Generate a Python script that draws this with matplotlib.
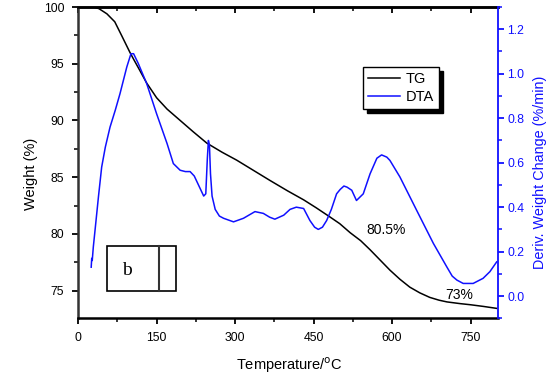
import matplotlib
matplotlib.use("Agg")
import matplotlib.pyplot as plt
from matplotlib.patches import Rectangle
from matplotlib.lines import Line2D
from matplotlib.ticker import MultipleLocator

plt.rcParams["font.family"] = ["Liberation Sans", "DejaVu Sans"]

# TG curve (weight %, left axis)
tg_temp = [25, 30, 40, 55, 70, 83, 99, 106, 118, 131, 150, 170, 195, 220, 246,
           275, 303, 335, 367, 400, 431, 455, 481, 500, 520, 540, 558, 577, 596,
           615, 634, 653, 672, 690, 705, 730, 750, 775, 800]
tg_weight = [100.0, 100.0, 99.85, 99.4, 98.7, 97.5, 96.0, 95.4, 94.4, 93.3, 92.0,
             91.0, 90.0, 89.0, 88.0, 87.2, 86.5, 85.6, 84.7, 83.8, 83.0, 82.3,
             81.5, 80.9, 80.1, 79.4, 78.6, 77.7, 76.8, 76.0, 75.3, 74.8, 74.4,
             74.15, 74.0, 73.85, 73.75, 73.6, 73.43]

# DTA curve (deriv. weight change, right axis)
dta_temp = [25, 26, 27, 29, 32.5, 39, 45, 52, 61, 71, 80, 93, 101, 106, 115, 131,
            150, 170, 182, 195, 205, 214, 222, 230, 240, 244, 247, 249, 251, 253,
            256, 262, 270, 278, 297, 316, 338, 354, 366, 376, 393, 405, 417, 431,
            443, 452, 459, 467, 475, 484, 494, 501, 508, 514, 523, 532, 545, 558,
            571, 580, 590, 596, 615, 647, 679, 705, 715, 724, 736, 755, 774, 787, 800]
dta_value = [0.13, 0.17, 0.16, 0.22, 0.30, 0.45, 0.58, 0.67, 0.76, 0.836, 0.91,
             1.03, 1.09, 1.09, 1.046, 0.956, 0.82, 0.686, 0.596, 0.566, 0.56, 0.56,
             0.54, 0.50, 0.45, 0.46, 0.62, 0.70, 0.68, 0.55, 0.45, 0.39, 0.36, 0.35,
             0.334, 0.35, 0.38, 0.372, 0.355, 0.346, 0.364, 0.39, 0.40, 0.394,
             0.34, 0.31, 0.30, 0.31, 0.34, 0.39, 0.46, 0.48, 0.495, 0.49, 0.476,
             0.43, 0.46, 0.55, 0.62, 0.635, 0.625, 0.61, 0.536, 0.386, 0.237, 0.13,
             0.09, 0.072, 0.057, 0.057, 0.080, 0.11, 0.154]

x_ticks = [0, 150, 300, 450, 600, 750]
left_ticks = [75, 80, 85, 90, 95, 100]
right_ticks = [0.0, 0.2, 0.4, 0.6, 0.8, 1.0, 1.2]

blue = "#1010ff"

fig = plt.figure(figsize=(5.58, 3.79), dpi=100)
ax = fig.add_axes([0.140, 0.160, 0.752, 0.8215])
ax2 = ax.twinx()

ax.plot(tg_temp, tg_weight, color="black", lw=1.1)
ax2.plot(dta_temp, dta_value, color=blue, lw=1.1)

ax.set_xlim(0, 802)
ax.set_ylim(72.55, 100)
ax2.set_ylim(-0.1, 1.3)

ax.set_xticks(x_ticks)
ax.set_yticks(left_ticks)
ax2.set_yticks(right_ticks)
ax2.set_yticklabels([f"{v:.1f}" for v in right_ticks])
ax.xaxis.set_minor_locator(MultipleLocator(75))
ax.yaxis.set_minor_locator(MultipleLocator(2.5))
ax2.yaxis.set_minor_locator(MultipleLocator(0.1))

ax.tick_params(axis="both", which="major", direction="out", length=4, width=1.3,
               labelsize=8.8, pad=6)
ax.tick_params(axis="both", which="minor", direction="out", length=3, width=1.1)
ax2.tick_params(axis="y", which="major", direction="out", length=4, width=1.3,
                colors=blue, labelsize=8.8, pad=3)
ax2.tick_params(axis="y", which="minor", direction="out", length=3, width=1.1,
                colors=blue)

top = ax.secondary_xaxis("top")
top.set_xticks(x_ticks, labels=[])
top.xaxis.set_minor_locator(MultipleLocator(75))
top.tick_params(which="major", direction="in", length=4, width=1.3)
top.tick_params(which="minor", direction="in", length=3, width=1.1)
top.spines["top"].set_linewidth(1.8)

for name in ["left", "bottom", "top"]:
    ax.spines[name].set_linewidth(1.8)
    ax2.spines[name].set_visible(False)
ax.spines["left"].set_color("#333333")
ax.spines["right"].set_visible(False)
ax2.spines["right"].set_color(blue)
ax2.spines["right"].set_linewidth(1.3)

# axis titles
fig.text(289 / 558, 1 - 365 / 379, "Temperature/$^{\\mathrm{o}}$C", fontsize=10.5,
         ha="center", va="center")
fig.text(31 / 558, 1 - 174 / 379, "Weight (%)", fontsize=10.5, rotation=90,
         ha="center", va="center")
fig.text(540 / 558, 1 - 172 / 379, "Deriv. Weight Change (%/min)", fontsize=10.4,
         color=blue, rotation=90, ha="center", va="center")

ax.text(588, 80.3, "80.5%", fontsize=10, ha="center", va="center")
ax.text(728, 74.6, "73%", fontsize=10, ha="center", va="center")

# sample label box
ax.add_patch(Rectangle((0.068, 0.088), 0.165, 0.144, transform=ax.transAxes,
                       fill=False, edgecolor="black", lw=1.2))
ax.add_line(Line2D([0.193, 0.193], [0.088, 0.232], transform=ax.transAxes,
                   color="#333333", lw=1.5))
ax.text(0.117, 0.155, "b", transform=ax.transAxes, fontsize=14,
        family="Liberation Serif", ha="center", va="center")

handles = [Line2D([], [], color="black", lw=1.1), Line2D([], [], color=blue, lw=1.1)]
leg = ax2.legend(handles, ["TG", "DTA"], loc="upper left",
                 bbox_to_anchor=(0.679, 0.807), fontsize=10.5, fancybox=False,
                 edgecolor="black", framealpha=1,
                 shadow={"color": "black", "alpha": 1, "ox": 3, "oy": -3},
                 handlelength=2.2, borderpad=0.35, labelspacing=0.25,
                 handletextpad=0.35, borderaxespad=0)
leg.get_frame().set_linewidth(1.0)

fig.savefig("out.png", dpi=100)
